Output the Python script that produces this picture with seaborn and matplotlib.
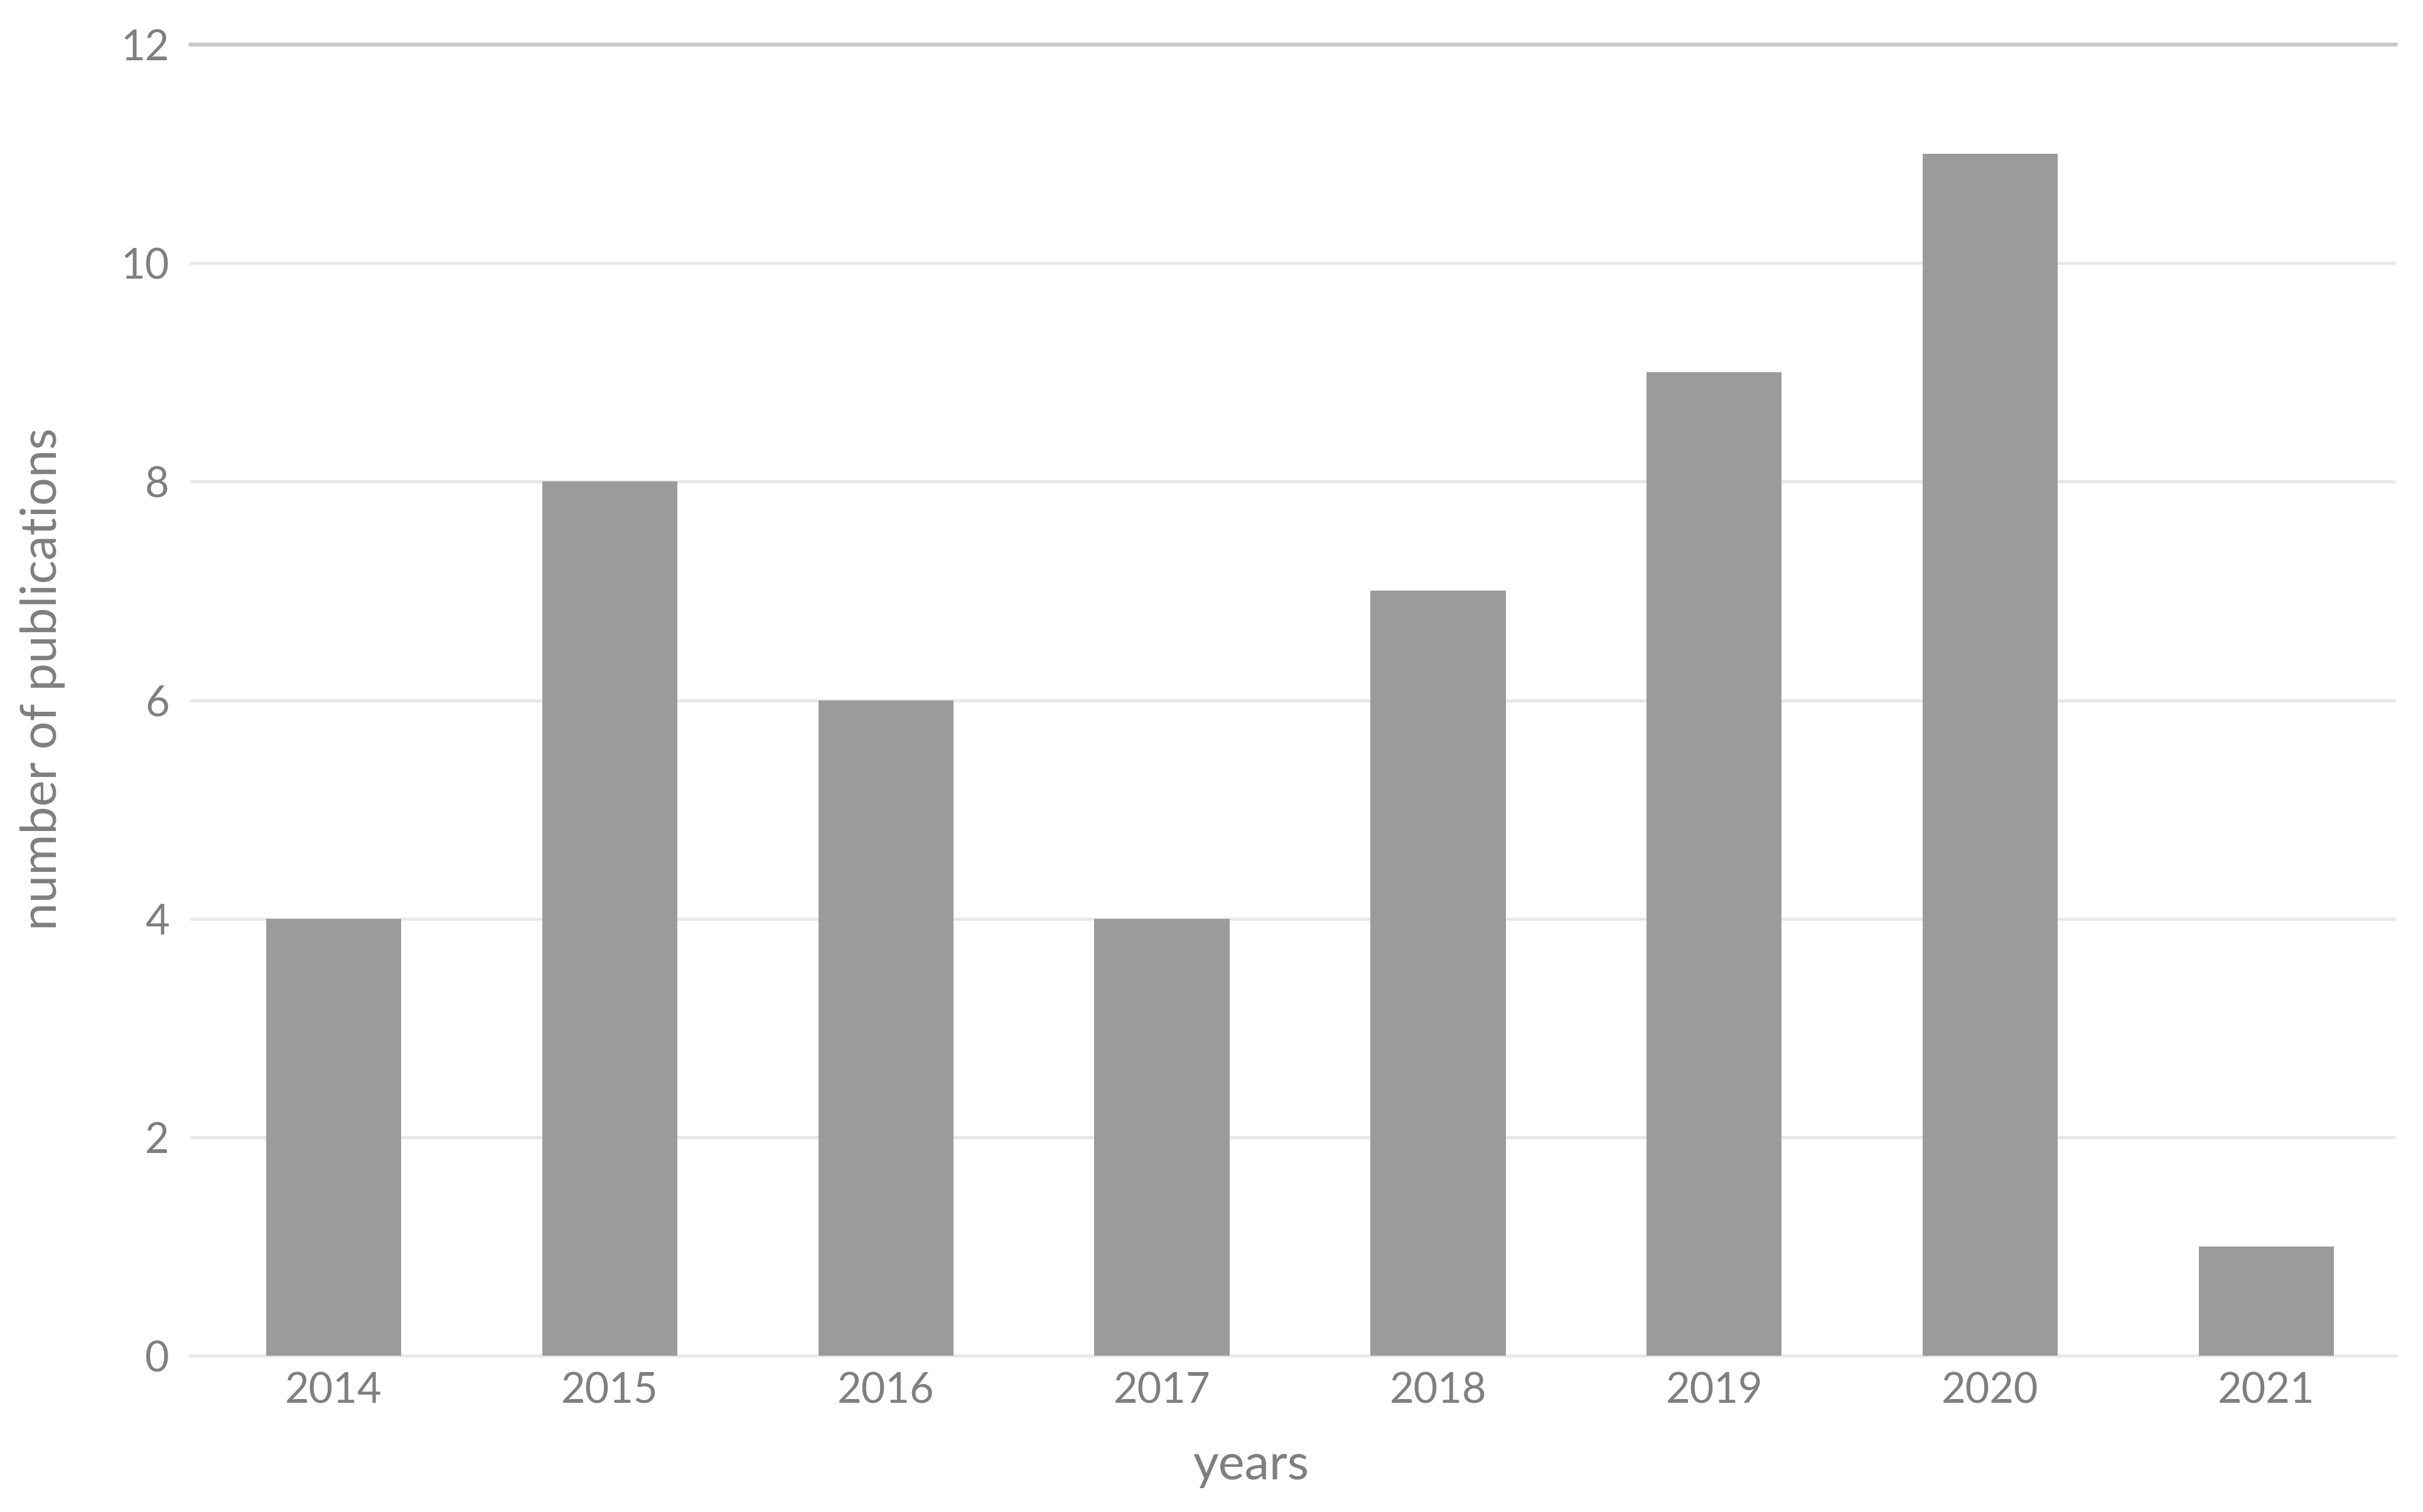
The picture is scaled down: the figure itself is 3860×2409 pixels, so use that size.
import pandas as pd
import matplotlib.pyplot as plt
import seaborn as sns

# publications per year
years = ["2014", "2015", "2016", "2017", "2018", "2019", "2020", "2021"]
counts = [4, 8, 6, 4, 7, 9, 11, 1]
y_ticks = [0, 2, 4, 6, 8, 10, 12]

df = pd.DataFrame({"year": years, "count": counts})

sns.set_theme(style="white")
plt.rcParams["font.family"] = ["Lato", "DejaVu Sans"]

text_col = "#7f7f7f"
grid_col = "#e8e8e8"

fig = plt.figure(figsize=(12.87, 8.03), dpi=300)
ax = fig.add_axes([303 / 3861, 1 - 2160 / 2409, (3817 - 303) / 3861, (2160 - 71) / 2409])

sns.barplot(data=df, x="year", y="count", color="#9a9b9a", width=0.49,
            saturation=1, linewidth=0, ax=ax, zorder=3)

ax.set_ylim(0, 12)
ax.set_xlim(-0.52, 7.47)
ax.set_yticks(y_ticks)
ax.yaxis.grid(True, color=grid_col, linewidth=1.2, zorder=0)
ax.set_axisbelow(True)
for s in ["left", "right", "top"]:
    ax.spines[s].set_visible(False)
ax.spines["bottom"].set_color(grid_col)
ax.spines["bottom"].set_linewidth(1.2)
# top line a bit darker like the reference
ax.axhline(12, color="#c8c8c8", linewidth=1.5, zorder=1, clip_on=False)

ax.tick_params(axis="both", length=0, labelsize=16, labelcolor=text_col)
ax.tick_params(axis="x", pad=6)
ax.tick_params(axis="y", pad=8)

ax.set_xlabel("years", fontsize=19, color=text_col, va="center")
ax.set_ylabel("number of publications", fontsize=19, color=text_col, va="center")
ax.xaxis.set_label_coords(0.481, -0.084)
ax.yaxis.set_label_coords(-0.067, 0.516)

plt.savefig("out.png", dpi=300)
